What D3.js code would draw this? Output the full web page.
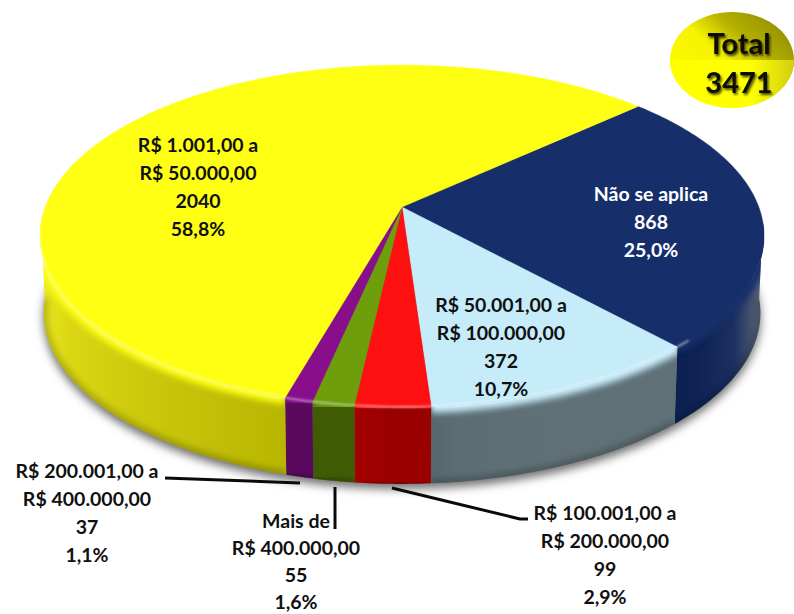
<!DOCTYPE html>
<html><head><meta charset="utf-8">
<script src="https://cdn.jsdelivr.net/npm/d3@7"></script>
<style>html,body{margin:0;padding:0;background:#fff}svg{display:block}
text{font-family:Lato,"Open Sans",sans-serif;font-weight:700;text-anchor:middle;dominant-baseline:central}</style>
</head><body><svg id="c" width="794" height="614"></svg>
<script>
// --- data ---
const categories = ["Não se aplica","R$ 50.001,00 a R$ 100.000,00","R$ 100.001,00 a R$ 200.000,00","Mais de R$ 400.000,00","R$ 200.001,00 a R$ 400.000,00","R$ 1.001,00 a R$ 50.000,00"];
const counts = [868,372,99,55,37,2040];
const percents = ["25,0%","10,7%","2,9%","1,6%","1,1%","58,8%"];
const labelNames = [["Não se aplica"],["R$ 50.001,00 a","R$ 100.000,00"],["R$ 100.001,00 a","R$ 200.000,00"],["Mais de","R$ 400.000,00"],["R$ 200.001,00 a","R$ 400.000,00"],["R$ 1.001,00 a","R$ 50.000,00"]];
const totalLabel = ["Total","3471"];
// --- style / layout ---
const topColors = ["#162f6b","#c6ecfa","#ff1010","#6e9e0c","#880e8c","#ffff14"];
const wallStops = [["#0c2052","#0e2254","#1c2f60","#646c7c"],["#56676d","#5c6d73","#5f7077","#5f7077"],["#a30000","#a30000","#9a0000","#9a0000"],["#3f5c05","#3f5c05","#3f5c05","#3f5c05"],["#5a0a5e","#5a0a5e","#5a0a5e","#5a0a5e"],["#e8e61c","#dad712","#c9c60c","#b8b500"]];
const textColors = ["#fff","#101010","#101010","#101010","#101010","#101010"];
const labelPos = [[651,193],[501,304],[605,512],[296,520],[87,470],[198,144]];
const labelLeading = [28,28,28,27.3,28,28];
const leaders = [[[392,488],[520,519],[528,519]],[[335,487],[335,529]],[[165,478],[300,483]]];
const startDeg = 47.5, apex=[402,207], k=0.1696, A=356.8, B=166, wallDrop=77, wallScale=0.99;

const svg=d3.select("#c"), defs=svg.append("defs");
const rad=d=>d*Math.PI/180;
const pie=d3.pie().sort(null).startAngle(rad(startDeg)).endAngle(rad(startDeg+360));
const arcs=pie(counts);
const sx=d3.scaleLinear().domain([0,1]).range([apex[0],apex[0]+A]);
const sy=d3.scaleLinear().domain([0,1]).range([apex[1],apex[1]+B]);
// perspective projection of a point on the disc rim
function rim(a,bottom){
  const u=Math.sin(a), v=-Math.cos(a), w=1/(1-k*v);
  const X=sx(u*w), Y=sy(v*w);
  return bottom?[apex[0]+(X-apex[0])*wallScale,Y+wallDrop]:[X,Y];
}
const samples=(a0,a1)=>{const n=Math.max(2,Math.ceil((a1-a0)/rad(1)));return d3.range(n+1).map(i=>a0+(a1-a0)*i/n);};
const line=d3.line(), open=d3.line().curve(d3.curveLinear);

// filters
const blur=(id,s)=>defs.append("filter").attr("id",id).attr("x","-20%").attr("y","-20%").attr("width","140%").attr("height","140%").append("feGaussianBlur").attr("stdDeviation",s);
blur("sh",5); blur("b3",3.2); blur("b1",0.9);
const ts=defs.append("filter").attr("id","ts").attr("x","-20%").attr("y","-20%").attr("width","140%").attr("height","140%");
ts.append("feDropShadow").attr("dx",1.5).attr("dy",2).attr("stdDeviation",1.2).attr("flood-color","#000").attr("flood-opacity",.7);

// shadow
svg.append("path").attr("d",line(samples(0,2*Math.PI).map(a=>{const p=rim(a,true);return [p[0],p[1]+5];}))+"Z")
  .attr("fill","#6f6f6f").attr("filter","url(#sh)");

// walls
const frontA=rad(95), frontB=rad(265);
arcs.forEach((d,i)=>{
  const a0=Math.max(d.startAngle,frontA), a1=Math.min(d.endAngle,frontB);
  if(a1<=a0) return;
  const a=samples(a0,a1), T=a.map(x=>rim(x,false)), Bt=a.map(x=>rim(x,true)).reverse();
  const id="w"+i, g=defs.append("linearGradient").attr("id",id).attr("gradientUnits","userSpaceOnUse")
    .attr("x1",i===5?45:d3.min(T,p=>p[0])).attr("x2",i===5?290:d3.max(T,p=>p[0])).attr("y1",0).attr("y2",0);
  const offs=i===0?[0,.25,.65,1]:[0,.1,.45,1];
  wallStops[i].forEach((c,j)=>g.append("stop").attr("offset",offs[j]).attr("stop-color",c));
  const poly=line(T.concat(Bt))+"Z";
  defs.append("clipPath").attr("id","cw"+i).append("path").attr("d",poly);
  svg.append("path").attr("d",poly).attr("fill",`url(#${id})`);
  const G=svg.append("g").attr("clip-path",`url(#cw${i})`);
  G.append("path").attr("d",open(T)).attr("fill","none").attr("stroke",topColors[i]).attr("stroke-width",13).attr("filter","url(#b3)");
  G.append("path").attr("d",open(Bt)).attr("fill","none").attr("stroke","#000").attr("stroke-opacity",.22).attr("stroke-width",8).attr("filter","url(#b3)");
});

// top face
arcs.forEach((d,i)=>{
  const pts=[apex].concat(samples(d.startAngle,d.endAngle).map(x=>rim(x,false)));
  svg.append("path").attr("d",line(pts)+"Z").attr("fill",topColors[i]).attr("stroke",topColors[i]).attr("stroke-width",.4);
});
// rim highlight on the front edge
svg.append("path").attr("d",open(samples(rad(135),rad(262)).map(x=>rim(x,false))))
  .attr("fill","none").attr("stroke","#fff").attr("stroke-opacity",.6).attr("stroke-width",1.6).attr("filter","url(#b1)");

// leader lines
leaders.forEach(l=>svg.append("path").attr("d",open(l)).attr("fill","none").attr("stroke","#0a0a0a").attr("stroke-width",3));

// labels
arcs.forEach((d,i)=>{
  const lines=labelNames[i].concat([String(counts[i]),percents[i]]);
  const t=svg.append("g");
  lines.forEach((s,j)=>t.append("text").attr("x",labelPos[i][0]).attr("y",labelPos[i][1]+j*labelLeading[i])
    .attr("font-size",19.5).attr("fill",textColors[i]).text(s));
});

// total badge
const bg=defs.append("linearGradient").attr("id","tot").attr("x1",.05).attr("y1",.85).attr("x2",.95).attr("y2",.1);
[[0,"#ffff00"],[.45,"#f6f200"],[.68,"#b4b000"],[1,"#8f8c00"]].forEach(s=>bg.append("stop").attr("offset",s[0]).attr("stop-color",s[1]));
const bl=defs.append("linearGradient").attr("id","tot2").attr("x1",0).attr("y1",0).attr("x2",1).attr("y2",0);
[[0,"#ffff00"],[.65,"#ffff00"],[1,"#d2cf10"]].forEach(s=>bl.append("stop").attr("offset",s[0]).attr("stop-color",s[1]));
defs.append("clipPath").attr("id","lowhalf").append("rect").attr("x",660).attr("y",60).attr("width",140).attr("height",60);
svg.append("ellipse").attr("cx",732).attr("cy",60).attr("rx",62).attr("ry",48).attr("fill","url(#tot)");
svg.append("ellipse").attr("cx",732).attr("cy",60).attr("rx",62).attr("ry",48).attr("fill","url(#tot2)").attr("clip-path","url(#lowhalf)");
totalLabel.forEach((s,j)=>svg.append("text").attr("x",739).attr("y",42+j*39).attr("font-size",29).attr("fill","#0a0a00").attr("filter","url(#ts)").text(s));
</script></body></html>
